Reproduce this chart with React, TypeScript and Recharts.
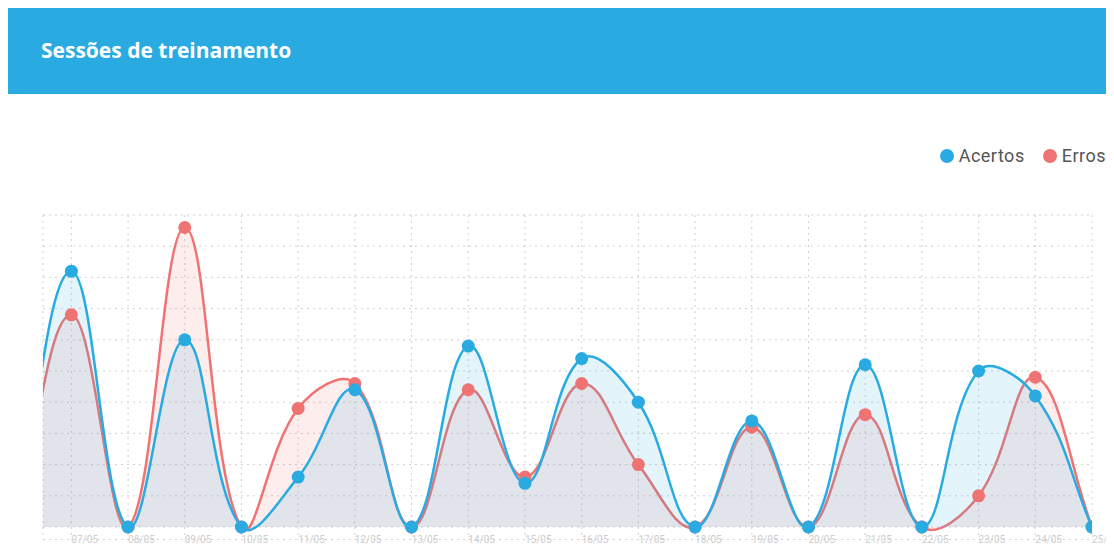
import React from "react"
import { AreaChart, Area, XAxis, YAxis, CartesianGrid } from "recharts"

// 06/05 sits left of the visible range (scrolled off), the rest are the labelled days
const dates = [
  "06/05", "07/05", "08/05", "09/05", "10/05", "11/05", "12/05", "13/05", "14/05", "15/05",
  "16/05", "17/05", "18/05", "19/05", "20/05", "21/05", "22/05", "23/05", "24/05", "25/05",
]
const acertos = [0, 8.2, 0, 6.0, 0, 1.6, 4.4, 0, 5.8, 1.4, 5.4, 4.0, 0, 3.4, 0, 5.2, 0, 5.0, 4.2, 0]
const erros = [0, 6.8, 0, 9.6, 0, 3.8, 4.6, 0, 4.4, 1.6, 4.6, 2.0, 0, 3.2, 0, 3.6, 0, 1.0, 4.8, 0]
const yTicks = [0, 1, 2, 3, 4, 5, 6, 7, 8, 9, 10]

const series = [
  { key: "acertos", name: "Acertos", color: "#29abe2" },
  { key: "erros", name: "Erros", color: "#f07373" },
]

const data = dates.map((d, i) => ({ i, date: d, acertos: acertos[i], erros: erros[i] }))
const xTicks = dates.map((_, i) => i).filter((i) => i > 0)

// chart.js style bezier (tension 0.4) as a d3 curve factory
function splineCurve(context: any) {
  const T = 0.4
  let xs: number[] = []
  let ys: number[] = []
  let line = NaN
  return {
    areaStart() { line = 0 },
    areaEnd() { line = NaN },
    lineStart() { xs = []; ys = [] },
    point(x: number, y: number) { xs.push(+x); ys.push(+y) },
    lineEnd() {
      const n = xs.length
      if (n) {
        if (line) context.lineTo(xs[0], ys[0])
        else context.moveTo(xs[0], ys[0])
        if (n === 2) context.lineTo(xs[1], ys[1])
        else if (n > 2) {
          const prev: number[][] = []
          const next: number[][] = []
          for (let k = 0; k < n; k++) {
            const a = k > 0 ? k - 1 : k
            const b = k < n - 1 ? k + 1 : k
            const d01 = Math.hypot(xs[k] - xs[a], ys[k] - ys[a])
            const d12 = Math.hypot(xs[b] - xs[k], ys[b] - ys[k])
            let s01 = d01 / (d01 + d12)
            let s12 = d12 / (d01 + d12)
            if (!isFinite(s01)) s01 = 0
            if (!isFinite(s12)) s12 = 0
            const dx = xs[b] - xs[a]
            const dy = ys[b] - ys[a]
            prev.push([xs[k] - T * s01 * dx, ys[k] - T * s01 * dy])
            next.push([xs[k] + T * s12 * dx, ys[k] + T * s12 * dy])
          }
          for (let k = 1; k < n; k++) {
            context.bezierCurveTo(next[k - 1][0], next[k - 1][1], prev[k][0], prev[k][1], xs[k], ys[k])
          }
        }
      }
      if (line || (line !== 0 && n === 1)) context.closePath()
      line = 1 - line
    },
  }
}

function DateTick(props: any) {
  const { x, y, payload } = props
  return (
    <text x={x} y={y + 3} fontSize={10} fill="#cdcdcd" textAnchor="start" fontFamily="Roboto, sans-serif">
      {dates[payload.value]}
    </text>
  )
}

export default function App() {
  return (
    <div style={{ width: 1106, fontFamily: "Roboto, sans-serif" }}>
      <div
        style={{
          height: 86,
          background: "#29abe2",
          color: "#fff",
          fontWeight: 700,
          fontSize: 21,
          fontFamily: "'Open Sans', sans-serif",
          display: "flex",
          alignItems: "center",
          paddingLeft: 33,
          paddingBottom: 3,
          boxSizing: "border-box",
        }}
      >
        Sessões de treinamento
      </div>
      <div style={{ position: "relative", width: 1106, height: 451, overflow: "hidden" }}>
        <div
          style={{
            position: "absolute",
            top: 51,
            right: 8,
            display: "flex",
            alignItems: "center",
            fontSize: 18,
            letterSpacing: 0.5,
            color: "#555",
          }}
        >
          {series.map((s) => (
            <div key={s.key} style={{ display: "flex", alignItems: "center", marginLeft: 18 }}>
              <span
                style={{
                  width: 14,
                  height: 14,
                  borderRadius: 7,
                  background: s.color,
                  display: "inline-block",
                  marginRight: 5,
                }}
              />
              {s.name}
            </div>
          ))}
        </div>
        <AreaChart width={1106} height={451} data={data} margin={{ top: 121, right: 22, bottom: 0, left: 35 }}>
          <CartesianGrid stroke="#cfcfcf" strokeDasharray="2 4" />
          <XAxis
            dataKey="i"
            type="number"
            domain={[0.5, 19]}
            allowDataOverflow
            ticks={xTicks}
            interval={0}
            height={5.5}
            axisLine={false}
            tickLine={false}
            tickSize={0}
            tickMargin={0}
            tick={<DateTick />}
          />
          <YAxis hide domain={[-0.4, 10]} ticks={yTicks} type="number" allowDataOverflow />
          <Area
            type={splineCurve as any}
            dataKey="erros"
            name="Erros"
            stroke="#f07373"
            strokeWidth={2.5}
            fill="#f07373"
            fillOpacity={0.13}
            dot={{ r: 6.5, fill: "#f07373", fillOpacity: 1, stroke: "#f07373", strokeWidth: 0 }}
            activeDot={false}
            isAnimationActive={false}
          />
          <Area
            type={splineCurve as any}
            dataKey="acertos"
            name="Acertos"
            stroke="#29abe2"
            strokeWidth={2.5}
            fill="#29abe2"
            fillOpacity={0.13}
            dot={{ r: 6.5, fill: "#29abe2", fillOpacity: 1, stroke: "#29abe2", strokeWidth: 0 }}
            activeDot={false}
            isAnimationActive={false}
          />
        </AreaChart>
      </div>
    </div>
  )
}
